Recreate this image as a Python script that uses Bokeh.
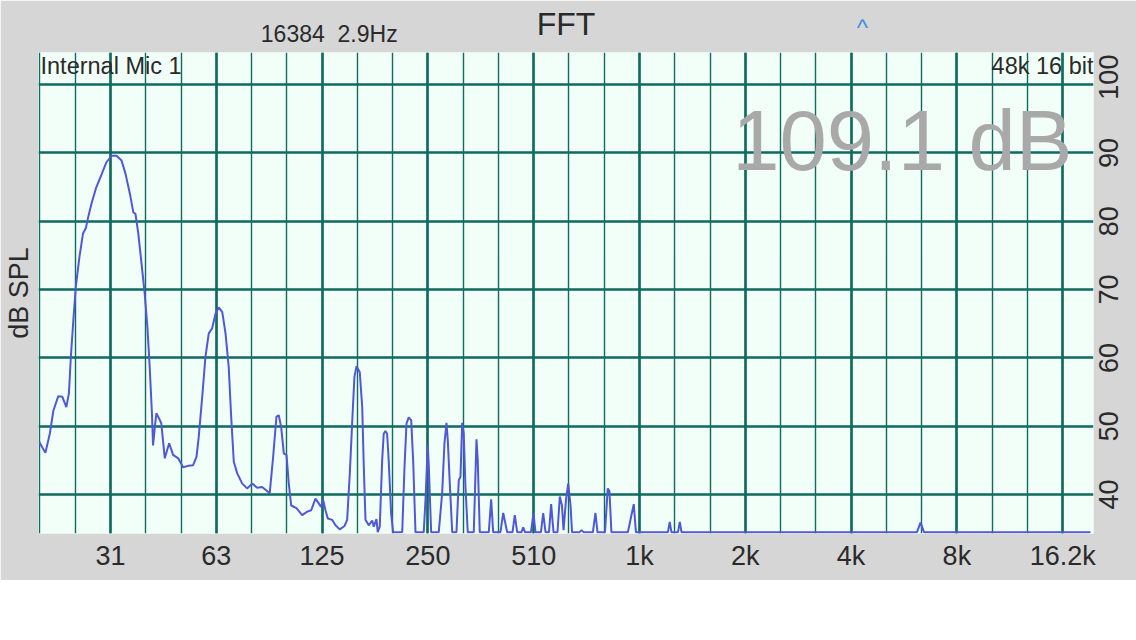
import math
from bokeh.plotting import figure
from bokeh.models import FixedTicker, Grid, Label, Range1d, LogAxis, LinearAxis
from bokeh.embed import file_html
from bokeh.resources import INLINE

# ---------------- data ----------------
freq_hz = [
    19.6, 20.4, 21.0, 21.5, 22.2, 22.8, 23.4, 23.8, 24.1, 24.5, 24.9, 25.5, 26.1, 26.6, 27.0,
    27.6, 28.4, 29.5, 30.4, 31.5, 32.5, 33.6, 34.5, 35.5, 36.3, 36.8, 37.5, 38.3, 39.1, 39.8,
    40.4, 41.0, 41.3, 41.8, 42.2, 43.0, 43.6, 44.6, 45.9, 47.1, 48.7, 50.3, 52.0, 53.7, 54.9,
    55.7, 57.0, 58.2, 59.5, 60.8, 62.2, 63.5, 65.0, 66.4, 67.8, 68.9, 70.1, 71.7, 74.1, 76.5,
    79.1, 81.7, 84.4, 86.8, 88.7, 90.7, 92.7, 94.1, 95.6, 97.3, 99.0, 100.5, 102.1, 105.7, 109.7,
    113.4, 116.4, 119.7, 122.3, 124.2, 125.9, 127.8, 129.8, 133.5, 136.5, 140.3, 144.8, 147.3, 149.9, 152.2,
    154.5, 156.6, 160.0, 162.6, 164.3, 166.1, 169.7, 173.6, 175.4, 178.5, 180.0, 182.4, 185.3, 187.2, 189.3,
    191.4, 193.4, 196.5, 199.1, 211.3, 214.5, 217.3, 220.5, 224.1, 227.0, 230.5, 243.3, 246.1, 249.8, 251.6,
    255.4, 268.5, 274.5, 278.7, 282.4, 284.8, 288.6, 293.2, 301.5, 306.1, 309.5, 313.0, 316.2, 319.8, 324.6,
    337.7, 343.7, 346.6, 351.2, 372.6, 378.4, 383.4, 402.2, 409.5, 420.2, 435.3, 441.8, 448.8, 461.6, 466.8,
    472.4, 491.3, 499.3, 505.9, 524.4, 532.2, 540.3, 552.8, 560.6, 569.3, 584.4, 593.4, 601.8, 608.1, 617.8,
    626.9, 636.6, 642.8, 675.0, 684.0, 693.0, 737.0, 749.4, 759.4, 797.8, 812.2, 821.3, 832.0, 927.0, 938.4,
    948.8, 963.2, 977.0, 1205.0, 1219.0, 1233.0, 1287.0, 1302.0, 1317.0, 6160.0, 6303.0, 6450.0, 19200.0,
]
level_db = [
    47.7, 46.1, 48.9, 52.3, 54.4, 54.3, 52.8, 54.8, 60.1, 65.5, 70.4, 74.8, 78.2, 79.0, 80.6,
    82.6, 84.8, 86.9, 88.6, 89.6, 89.6, 88.9, 86.9, 84.0, 81.3, 81.1, 78.2, 73.8, 69.4, 64.5,
    58.7, 51.9, 47.2, 49.9, 51.9, 51.1, 50.4, 45.3, 47.5, 45.8, 45.3, 44.0, 44.2, 44.3, 45.5,
    48.4, 54.3, 60.1, 63.6, 64.3, 66.5, 67.4, 66.7, 63.6, 58.7, 51.4, 44.8, 43.1, 41.6, 40.9,
    41.6, 41.0, 41.1, 40.6, 40.2, 45.5, 51.4, 51.6, 49.9, 46.0, 45.8, 41.6, 38.4, 38.0, 37.0,
    37.5, 37.7, 39.4, 38.7, 38.2, 39.2, 37.7, 36.5, 36.3, 35.5, 34.9, 35.4, 36.3, 43.1, 50.4,
    57.2, 58.8, 57.9, 52.8, 44.0, 36.3, 35.5, 36.2, 35.3, 36.4, 34.5, 35.3, 45.0, 48.9, 49.3,
    48.9, 45.0, 37.2, 34.5, 34.5, 44.0, 50.4, 51.3, 50.9, 45.0, 34.5, 34.5, 39.2, 47.2, 44.0,
    34.5, 34.5, 40.2, 47.5, 50.5, 48.0, 41.6, 34.5, 34.5, 42.1, 42.6, 50.5, 48.9, 41.1, 34.5,
    34.5, 48.1, 45.0, 34.5, 34.5, 39.3, 34.5, 34.5, 37.3, 34.5, 34.5, 37.0, 34.5, 34.5, 35.2,
    34.5, 34.5, 37.3, 34.5, 34.5, 37.3, 34.5, 34.5, 38.6, 34.5, 34.5, 39.7, 38.4, 34.8, 39.2,
    41.6, 38.4, 34.5, 34.5, 34.8, 34.5, 34.5, 37.3, 34.5, 34.5, 40.9, 40.5, 34.5, 34.5, 35.8,
    37.0, 38.6, 34.5, 34.5, 36.0, 34.5, 34.5, 36.0, 34.5, 34.5, 35.9, 34.5, 34.5,
]
x_ticks_hz = [31.25, 62.5, 125, 250, 500, 1000, 2000, 4000, 8000, 16000]
x_tick_labels = ["31", "63", "125", "250", "510", "1k", "2k", "4k", "8k", "16.2k"]
y_ticks_db = [40, 50, 60, 70, 80, 90, 100]
info_pos_hz = 131.0
info_text = "16384\u00a0 2.9Hz"
marker_pos_hz = 4310.0
marker_text = "^"

# ---------------- styling ----------------
GRID = "#0f6b5d"
TEXT = "#2a2a2a"
FONT = "Liberation Sans"
Y0, Y1 = 34.3, 104.7
LABEL_SHIFT_DB = 2.2   # centres the rotated right-hand labels on their grid lines

p = figure(width=1136, height=580, x_axis_type="log", y_axis_location="right",
           x_range=Range1d(19.5, 19580), y_range=Range1d(Y0, Y1),
           output_backend="svg", toolbar_location=None,
           min_border_left=38, min_border_right=43, min_border_top=52, min_border_bottom=47)
p.extra_y_ranges = {"ylab": Range1d(Y0 + LABEL_SHIFT_DB, Y1 + LABEL_SHIFT_DB)}
p.background_fill_color = "#f2fff8"
p.border_fill_color = "#d6d6d6"
p.outline_line_color = None
p.grid.visible = False

third_octaves = [x_ticks_hz[0] * 2 ** (k / 3) for k in range(-2, 29)]
p.add_layout(Grid(dimension=0, ticker=FixedTicker(ticks=third_octaves),
                  grid_line_color=GRID, grid_line_width=1.4))
p.add_layout(Grid(dimension=0, ticker=FixedTicker(ticks=x_ticks_hz),
                  grid_line_color=GRID, grid_line_width=2.6))
p.add_layout(Grid(dimension=1, ticker=FixedTicker(ticks=y_ticks_db),
                  grid_line_color=GRID, grid_line_width=2.6))

p.line(freq_hz, level_db, line_color="#4f58d6", line_width=2)


def plain(ax):
    ax.axis_line_color = None
    ax.major_tick_line_color = None
    ax.minor_tick_line_color = None
    ax.major_tick_out = 0
    ax.major_tick_in = 0
    ax.minor_tick_out = 0
    ax.major_label_text_font = FONT
    ax.major_label_text_color = TEXT
    ax.axis_label_text_font = FONT
    ax.axis_label_text_color = TEXT
    ax.axis_label_text_font_style = "normal"


xa = p.xaxis[0]
plain(xa)
xa.ticker = FixedTicker(ticks=x_ticks_hz)
xa.major_label_overrides = {t: l for t, l in zip(x_ticks_hz, x_tick_labels)}
xa.major_label_text_font_size = "27px"
xa.major_label_standoff = 7

p.yaxis.visible = False
ya = LinearAxis(y_range_name="ylab", ticker=FixedTicker(ticks=y_ticks_db))
plain(ya)
ya.major_label_orientation = math.pi / 2
ya.major_label_text_font_size = "27px"
ya.major_label_standoff = 15
p.add_layout(ya, "right")

# header row, nearest the frame: blue marker
mark = LogAxis(ticker=FixedTicker(ticks=[marker_pos_hz]),
               major_label_overrides={marker_pos_hz: marker_text})
plain(mark)
mark.major_label_text_color = "#3f8fe3"
mark.major_label_text_font_size = "24px"
mark.major_label_standoff = 12
p.add_layout(mark, "above")

# header row, outer: fft size / resolution and the title
top = LogAxis(ticker=FixedTicker(ticks=[info_pos_hz]),
              major_label_overrides={info_pos_hz: info_text},
              axis_label="FFT")
plain(top)
top.major_label_text_font_size = "23px"
top.major_label_standoff = -36
top.axis_label_text_font_size = "32px"
top.axis_label_standoff = -24
p.add_layout(top, "above")

left = LinearAxis(ticker=FixedTicker(ticks=[]), axis_label="dB SPL")
plain(left)
left.major_label_standoff = 0
left.axis_label_text_font_size = "27px"
left.axis_label_standoff = 5
p.add_layout(left, "left")


def lab(x, y, text, size, color=TEXT, align="left", baseline="middle"):
    p.add_layout(Label(x=x, y=y, x_units="canvas", y_units="canvas", text=text,
                       text_font=FONT, text_font_size=size, text_color=color,
                       text_align=align, text_baseline=baseline))


lab(40, 65, "Internal Mic 1", "23.5px")
lab(1093, 65, "48k 16 bit", "23.5px", align="right")
lab(1072, 140, "109.1 dB", "85px", color="#a9a9a9", align="right")

open("out.html", "w").write(file_html(p, INLINE))
